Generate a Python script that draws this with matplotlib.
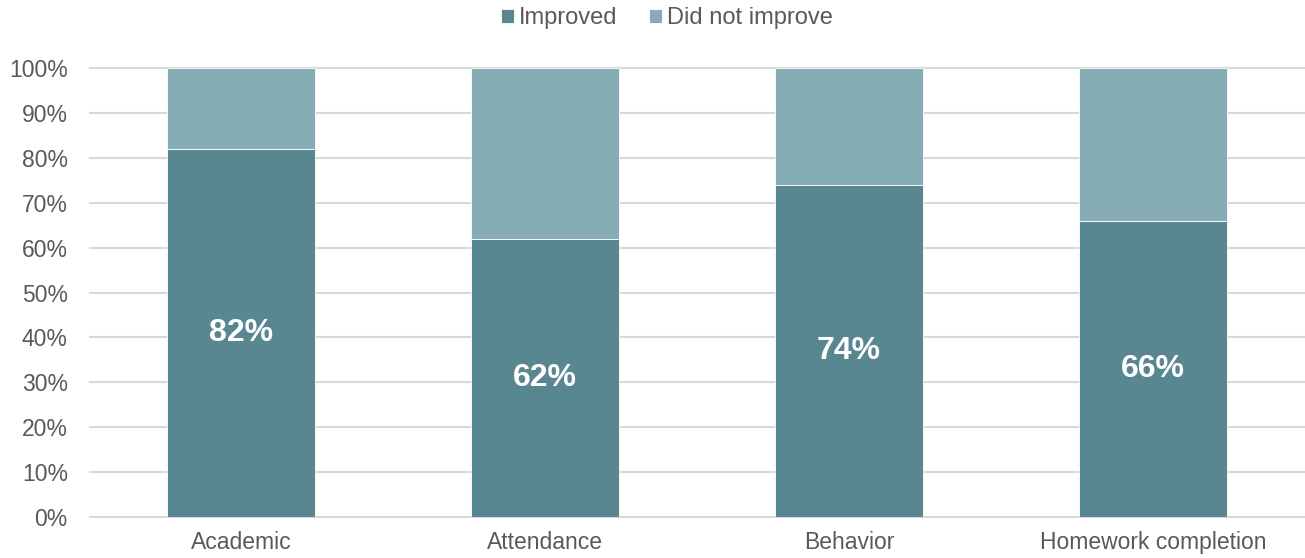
import matplotlib.pyplot as plt
import numpy as np

categories = ["Academic", "Attendance", "Behavior", "Homework completion"]
improved = [82, 62, 74, 66]
not_improved = [18, 38, 26, 34]

c_imp = "#588791"
c_not = "#86ADB6"
grey = "#595959"

plt.rcParams['font.family'] = ['Liberation Sans', 'DejaVu Sans']

fig = plt.figure(figsize=(13.05, 5.58), dpi=100)
ax = fig.add_axes([0.069, 0.0735, 0.931, 0.8045])

x = np.arange(len(categories))
imp = np.array(improved) / 100
nimp = np.array(not_improved) / 100

ax.bar(x, imp, width=0.487, color=c_imp, edgecolor="white", linewidth=0.6,
       label="Improved", zorder=3)
ax.bar(x, nimp, width=0.487, bottom=imp, color=c_not, edgecolor="white",
       linewidth=0.6, label="Did not improve", zorder=3)

for xi, v in zip(x, improved):
    ax.text(xi, v / 200, f"{v}%", ha="center", va="center", color="white",
            fontsize=23, fontweight="bold", zorder=4)

ax.set_xlim(-0.497, 3.5)
ax.set_ylim(0, 1)
ax.set_yticks(np.arange(0, 1.01, 0.1))
ax.set_yticklabels([f"{int(round(t * 100))}%" for t in np.arange(0, 1.01, 0.1)])
ax.set_xticks(x)
ax.set_xticklabels(categories)
ax.tick_params(axis="both", length=0, labelsize=16.5, labelcolor=grey)
ax.tick_params(axis="y", pad=16)
ax.tick_params(axis="x", pad=10)

ax.grid(axis="y", color="#D9D9D9", linewidth=1.5, zorder=0)
for gl in ax.get_ygridlines():
    gl.set_clip_on(False)
for s in ax.spines.values():
    s.set_visible(False)

fig.legend(loc="upper center", bbox_to_anchor=(0.511, 1.025), ncol=2, frameon=False,
           fontsize=17, labelcolor=grey, handlelength=0.55, handleheight=0.55,
           handletextpad=0.2, columnspacing=1.35)

fig.savefig("out.png", dpi=100)
